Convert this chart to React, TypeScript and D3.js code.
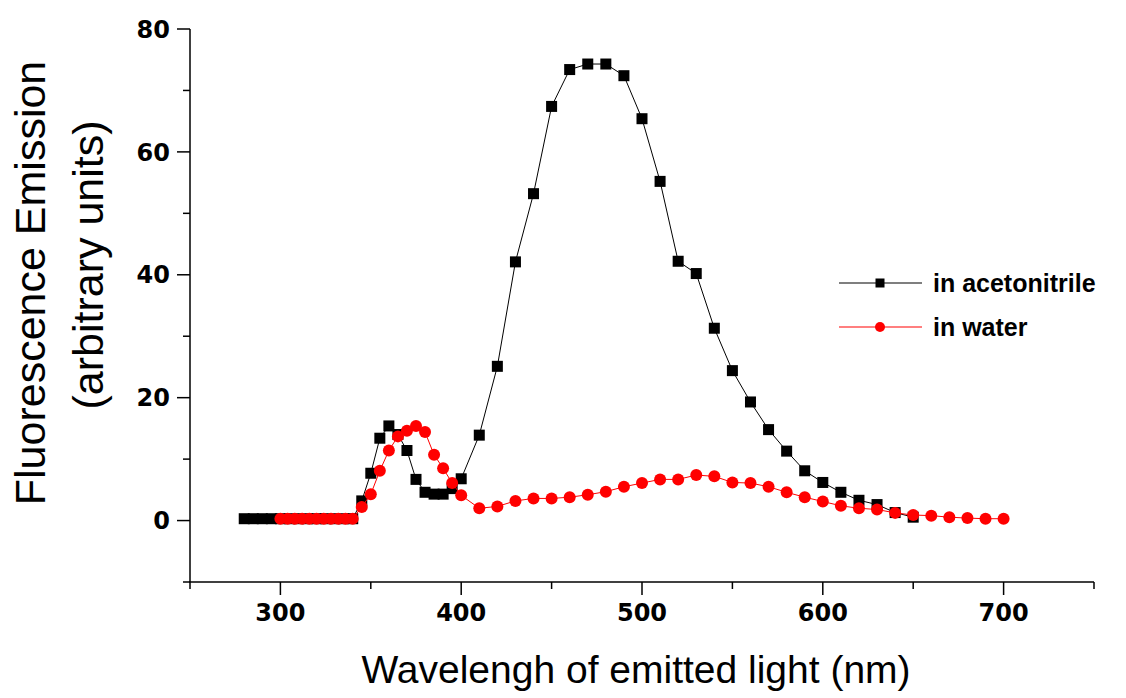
import React from "react";
import * as d3 from "d3";

const acetoWl = [280, 285, 290, 295, 300, 305, 310, 315, 320, 325, 330, 335, 340, 345, 350, 355, 360, 365, 370, 375, 380, 385, 390, 395, 400, 410, 420, 430, 440, 450, 460, 470, 480, 490, 500, 510, 520, 530, 540, 550, 560, 570, 580, 590, 600, 610, 620, 630, 640, 650];
const acetoVal = [0.3, 0.3, 0.3, 0.3, 0.3, 0.3, 0.3, 0.3, 0.3, 0.3, 0.3, 0.3, 0.3, 3.2, 7.7, 13.4, 15.4, 14.0, 11.4, 6.7, 4.6, 4.3, 4.3, 5.2, 6.8, 13.9, 25.1, 42.1, 53.2, 67.4, 73.4, 74.3, 74.3, 72.4, 65.4, 55.2, 42.2, 40.2, 31.3, 24.4, 19.3, 14.8, 11.3, 8.1, 6.2, 4.6, 3.3, 2.6, 1.3, 0.55];

const waterWl = [300, 304, 308, 312, 316, 320, 324, 328, 332, 336, 340, 345, 350, 355, 360, 365, 370, 375, 380, 385, 390, 395, 400, 410, 420, 430, 440, 450, 460, 470, 480, 490, 500, 510, 520, 530, 540, 550, 560, 570, 580, 590, 600, 610, 620, 630, 640, 650, 660, 670, 680, 690, 700];
const waterVal = [0.3, 0.3, 0.3, 0.3, 0.3, 0.3, 0.3, 0.3, 0.3, 0.3, 0.3, 2.2, 4.3, 8.1, 11.4, 13.7, 14.6, 15.4, 14.4, 10.7, 8.5, 6.1, 4.1, 2.0, 2.3, 3.2, 3.6, 3.6, 3.8, 4.2, 4.7, 5.5, 6.1, 6.7, 6.7, 7.4, 7.2, 6.2, 6.1, 5.5, 4.6, 3.8, 3.1, 2.4, 2.0, 1.8, 1.25, 0.9, 0.8, 0.55, 0.4, 0.3, 0.3];

const xMajorTicks = [300, 400, 500, 600, 700];
const xMinorTicks = [250, 350, 450, 550, 650, 750];
const yMajorTicks = [0, 20, 40, 60, 80];
const yMinorTicks = [-10, 10, 30, 50, 70];

const seriesNames = ["in acetonitrile", "in water"];
const xTitle = "Wavelengh of emitted light (nm)";
const yTitle1 = "Fluorescence Emission";
const yTitle2 = "(arbitrary units)";

export default function App() {
  const W = 1126, H = 698;
  const x = d3.scaleLinear().domain([250, 750]).range([190, 1094]);
  const y = d3.scaleLinear().domain([-10, 80]).range([582, 29]);
  const line = d3.line<[number, number]>().x(d => x(d[0])).y(d => y(d[1]));
  const aceto: [number, number][] = acetoWl.map((w, i) => [w, acetoVal[i]]);
  const water: [number, number][] = waterWl.map((w, i) => [w, waterVal[i]]);
  const sansFont = "'Liberation Sans', Arial, sans-serif";
  const tickFont = "'DejaVu Sans', Verdana, sans-serif";
  const sq = 11;
  const r = 6;
  return (
    <svg width={W} height={H} style={{ position: "absolute", left: 0, top: 0, background: "#fff" }}>
      <rect x={0} y={0} width={W} height={H} fill="#fff" />
      {/* axes */}
      <line x1={x(250)} x2={x(250)} y1={y(80)} y2={y(-10)} stroke="#000" strokeWidth={1.5} />
      <line x1={x(250) - 1} x2={x(750)} y1={y(-10)} y2={y(-10)} stroke="#000" strokeWidth={1.5} />
      {yMajorTicks.map(t => (
        <g key={"ym" + t}>
          <line x1={x(250) - 13} x2={x(250)} y1={y(t)} y2={y(t)} stroke="#000" strokeWidth={1.5} />
          <text x={x(250) - 20} y={y(t)} dy="0.36em" textAnchor="end" fontFamily={tickFont} fontWeight="bold" fontSize={24}>{t}</text>
        </g>
      ))}
      {yMinorTicks.map(t => (
        <line key={"yn" + t} x1={x(250) - 7} x2={x(250)} y1={y(t)} y2={y(t)} stroke="#000" strokeWidth={1.5} />
      ))}
      {xMajorTicks.map(t => (
        <g key={"xm" + t}>
          <line x1={x(t)} x2={x(t)} y1={y(-10)} y2={y(-10) + 13} stroke="#000" strokeWidth={1.5} />
          <text x={x(t)} y={y(-10) + 39} textAnchor="middle" fontFamily={tickFont} fontWeight="bold" fontSize={24}>{t}</text>
        </g>
      ))}
      {xMinorTicks.map(t => (
        <line key={"xn" + t} x1={x(t)} x2={x(t)} y1={y(-10)} y2={y(-10) + 7} stroke="#000" strokeWidth={1.5} />
      ))}
      {/* series */}
      <path d={line(aceto) || ""} fill="none" stroke="#000" strokeWidth={1} />
      {aceto.map((d, i) => (
        <rect key={"a" + i} x={x(d[0]) - sq / 2} y={y(d[1]) - sq / 2} width={sq} height={sq} fill="#000" />
      ))}
      <path d={line(water) || ""} fill="none" stroke="#f00" strokeWidth={1} />
      {water.map((d, i) => (
        <circle key={"w" + i} cx={x(d[0])} cy={y(d[1])} r={r} fill="#f00" />
      ))}
      {/* legend */}
      <g>
        <line x1={839} x2={922} y1={283} y2={283} stroke="#000" strokeWidth={1.2} />
        <rect x={880 - 4.5} y={283 - 4.5} width={9} height={9} fill="#000" />
        <text x={933} y={283} dy="0.36em" fontFamily={sansFont} fontWeight="bold" fontSize={25}>{seriesNames[0]}</text>
        <line x1={839} x2={922} y1={327} y2={327} stroke="#f00" strokeWidth={1.2} />
        <circle cx={880} cy={327} r={5} fill="#f00" />
        <text x={933} y={327} dy="0.36em" fontFamily={sansFont} fontWeight="bold" fontSize={25}>{seriesNames[1]}</text>
      </g>
      {/* titles */}
      <text x={636} y={683} textAnchor="middle" fontFamily={sansFont} fontSize={39}>{xTitle}</text>
      <text transform={`translate(45,283) rotate(-90)`} textAnchor="middle" fontFamily={sansFont} fontSize={43}>{yTitle1}</text>
      <text transform={`translate(103,265) rotate(-90)`} textAnchor="middle" fontFamily={sansFont} fontSize={43}>{yTitle2}</text>
    </svg>
  );
}
